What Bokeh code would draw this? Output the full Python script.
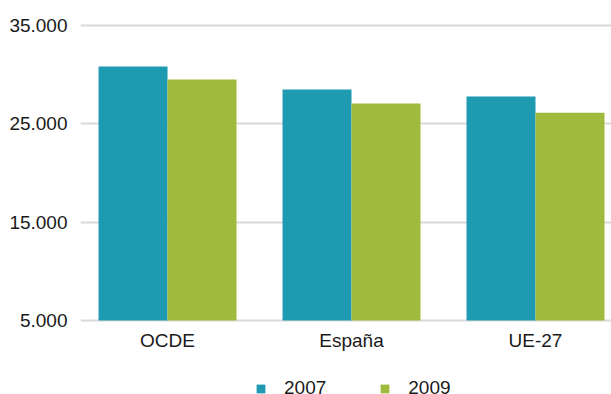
import numpy as np
from bokeh.plotting import figure
from bokeh.layouts import column
from bokeh.models import ColumnDataSource, Range1d, FixedTicker, Legend, LegendItem
from bokeh.embed import file_html
from bokeh.resources import INLINE

categories = ["OCDE", "España", "UE-27"]
years = ["2007", "2009"]
values_2007 = [30830, 28490, 27780]
values_2009 = [29510, 27070, 26120]
y_ticks = [5000, 15000, 25000, 35000]
y_tick_labels = ["5.000", "15.000", "25.000", "35.000"]
colors = ["#1f9bb1", "#9fba3d"]

FONT = "Liberation Sans"
TXT = "#1a1a1a"

xpos = np.arange(len(categories)) + 0.5
bw = 0.375
src = ColumnDataSource(dict(
    x07=xpos - bw / 2, x09=xpos + bw / 2,
    v07=values_2007, v09=values_2009,
))

p = figure(width=611, height=355, output_backend="svg", toolbar_location=None,
           x_range=Range1d(0.027, 2.913), y_range=Range1d(4700, 35300),
           min_border_left=80, min_border_right=0, min_border_top=22,
           min_border_bottom=32)
p.outline_line_color = None
p.background_fill_color = "white"
p.border_fill_color = "white"

p.vbar(x="x07", top="v07", bottom=5000, width=bw, source=src,
       fill_color=colors[0], line_color=None)
p.vbar(x="x09", top="v09", bottom=5000, width=bw, source=src,
       fill_color=colors[1], line_color=None)

p.xgrid.visible = False
p.ygrid.grid_line_color = "#d9d9d9"
p.ygrid.grid_line_width = 2
p.ygrid.ticker = FixedTicker(ticks=y_ticks)

p.yaxis.ticker = FixedTicker(ticks=y_ticks)
p.yaxis.major_label_overrides = {t: l for t, l in zip(y_ticks, y_tick_labels)}
p.yaxis.axis_line_color = None
p.yaxis.major_tick_line_color = None
p.yaxis.minor_tick_line_color = None
p.yaxis.major_label_standoff = 7
p.yaxis.major_label_text_font = FONT
p.yaxis.major_label_text_font_size = "19px"
p.yaxis.major_label_text_color = TXT

p.xaxis.ticker = FixedTicker(ticks=list(xpos))
p.xaxis.major_label_overrides = {float(x): c for x, c in zip(xpos, categories)}
p.xaxis.axis_line_color = None
p.xaxis.major_tick_line_color = None
p.xaxis.minor_tick_line_color = None
p.xaxis.major_label_standoff = 0
p.xaxis.major_label_text_font = FONT
p.xaxis.major_label_text_font_size = "19px"
p.xaxis.major_label_text_color = TXT

# legend strip below the chart
lg = figure(width=611, height=39, output_backend="svg", toolbar_location=None,
            x_range=Range1d(0, 611), y_range=Range1d(0, 39),
            min_border=0, x_axis_type=None, y_axis_type=None)
lg.outline_line_color = None
lg.xgrid.visible = False
lg.ygrid.visible = False
offscreen = ColumnDataSource(dict(x=[-1000], top=[-1000]))
l1 = lg.vbar(x="x", top="top", width=1, source=offscreen,
             fill_color=colors[0], line_color=None)
l2 = lg.vbar(x="x", top="top", width=1, source=offscreen,
             fill_color=colors[1], line_color=None)
legend = Legend(items=[LegendItem(label=years[0], renderers=[l1]),
                       LegendItem(label=years[1], renderers=[l2])],
                orientation="horizontal", location=(175, -5),
                glyph_width=11, glyph_height=11, label_standoff=18,
                spacing=53, padding=0, margin=0, border_line_color=None,
                background_fill_alpha=0, label_height=11,
                label_text_font=FONT, label_text_font_size="19px",
                label_text_color=TXT)
lg.add_layout(legend, "center")

layout = column(p, lg, spacing=0)
open("out.html", "w").write(file_html(layout, INLINE))
